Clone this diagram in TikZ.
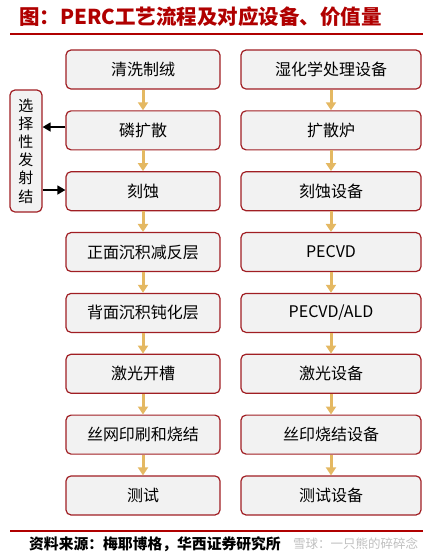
\documentclass[tikz,border=0pt]{standalone}
\usepackage{fontspec}
\setmainfont{Carlito}
\newfontfamily\cjk{Noto Sans CJK SC}
\usetikzlibrary{positioning}
\usetikzlibrary{arrows.meta}

\definecolor{titlered}{RGB}{176,0,0}
\definecolor{boxred}{RGB}{160,30,35}
\definecolor{boxfill}{RGB}{242,242,242}
\definecolor{flowgold}{RGB}{228,184,98}

\begin{document}
\begin{tikzpicture}[x=1pt, y=-1pt, node distance=20.65pt]

\tikzstyle{proc}=[rectangle, rounded corners=5pt, draw=boxred, line width=1.2pt,
  fill=boxfill, minimum width=154pt, minimum height=39pt, inner sep=1pt,
  font=\cjk\fontsize{16}{18}\selectfont]
\tikzstyle{equip}=[proc, minimum width=180pt]
\tikzstyle{side}=[rectangle, rounded corners=5pt, draw=boxred, line width=1.2pt,
  fill=boxfill, minimum width=32pt, minimum height=122pt, inner sep=1pt,
  align=center, font=\cjk\fontsize{15}{18.2}\selectfont]
\tikzstyle{rule}=[titlered, line width=2pt]

\tikzstyle{arrflow}=[-{Triangle[width=10pt, length=8pt]}, line width=3pt, draw=flowgold]
\tikzstyle{arrside}=[-{Triangle[width=9pt, length=8pt]}, line width=1.5pt, draw=black]

\useasboundingbox (0,0) rectangle (444,558);

% title and rules
\node[anchor=west, inner sep=0pt, text=titlered,
  font=\cjk\bfseries\fontsize{20.5}{22}\selectfont] (title) at (19,17)
  {图：PERC工艺流程及对应设备、价值量};
\coordinate (ruleTL) at (10,34);
\coordinate (ruleTR) at (423,34);
\draw[rule] (ruleTL) -- (ruleTR);

% process steps
\node[proc] (clean) at (143,69.5) {清洗制绒};
\node[proc, below=of clean] (diff) {磷扩散};
\node[proc, below=of diff] (etch) {刻蚀};
\node[proc, below=of etch] (arc) {正面沉积减反层};
\node[proc, below=of arc] (pass) {背面沉积钝化层};
\node[proc, below=of pass] (laser) {激光开槽};
\node[proc, below=of laser] (print) {丝网印刷和烧结};
\node[proc, below=of print] (test) {测试};

\foreach \a/\b in {clean/diff, diff/etch, etch/arc, arc/pass,
                   pass/laser, laser/print, print/test}
  \draw[arrflow] (\a.south) -- (\b.north);

% equipment
\node[equip] (wet) at (331,69.5) {湿化学处理设备};
\node[equip, below=of wet] (furnace) {扩散炉};
\node[equip, below=of furnace] (etcher) {刻蚀设备};
\node[equip, below=of etcher] (pecvd) {\fontsize{16}{18}\selectfont PECVD};
\node[equip, below=of pecvd] (ald) {\fontsize{16}{18}\selectfont PECVD/ALD};
\node[equip, below=of ald] (laserq) {激光设备};
\node[equip, below=of laserq] (printer) {丝印烧结设备};
\node[equip, below=of printer] (tester) {测试设备};

\foreach \a/\b in {wet/furnace, furnace/etcher, etcher/pecvd, pecvd/ald,
                   ald/laserq, laserq/printer, printer/tester}
  \draw[arrflow] (\a.south) -- (\b.north);

% selective emitter
\node[side] (se) at (26,151) {选\\择\\性\\发\\射\\结};
\draw[arrside] (diff.west |- 0,127) -- (se.east |- 0,127);
\draw[arrside] (se.east |- 0,190) -- (etch.west |- 0,190);

% footer
\coordinate (ruleBL) at (10,531);
\coordinate (ruleBR) at (423,531);
\draw[rule] (ruleBL) -- (ruleBR);
\node[anchor=west, inner sep=0pt,
  font=\cjk\bfseries\fontsize{14.8}{16}\selectfont] (source) at (29,544)
  {资料来源：梅耶博格，华西证券研究所};
\node[anchor=west, inner sep=0pt, text=black!25,
  font=\cjk\fontsize{12.5}{14}\selectfont] (mark) at (293,544)
  {雪球：一只熊的碎碎念};

\end{tikzpicture}
\end{document}
